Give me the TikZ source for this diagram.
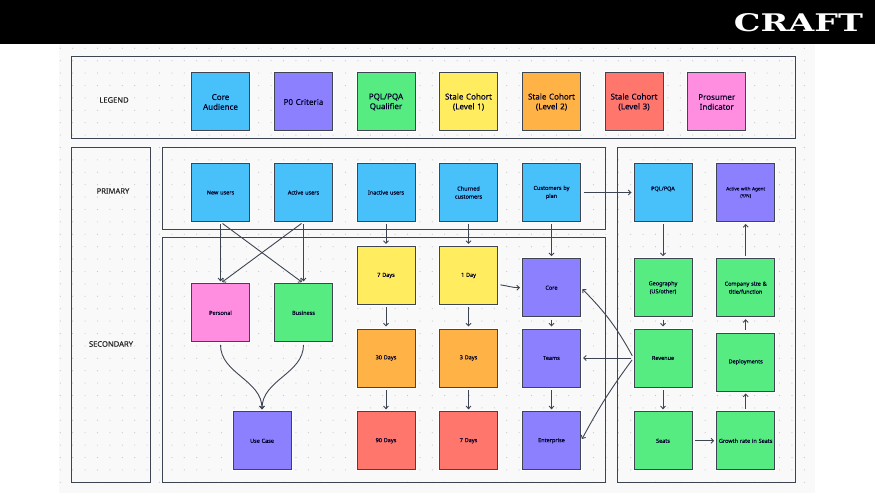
\documentclass[tikz,border=0pt]{standalone}
\usepackage{fontspec}
\setmainfont{Noto Sans}[FakeBold=0.1]
\newfontfamily\craftfont{DejaVu Serif}
\usetikzlibrary{arrows.meta}
\definecolor{linecol}{HTML}{3D4452}
\definecolor{paneCol}{HTML}{F9F9F9}
\definecolor{dotCol}{HTML}{C8C8CC}
\definecolor{blueCol}{HTML}{48C0F9}
\definecolor{purpleCol}{HTML}{8D80FF}
\definecolor{greenCol}{HTML}{56EC82}
\definecolor{yellowCol}{HTML}{FFED5F}
\definecolor{orangeCol}{HTML}{FFB347}
\definecolor{redCol}{HTML}{FF766C}
\definecolor{pinkCol}{HTML}{FF8DE0}
\tikzset{
	box/.style={draw=linecol,line width=1pt,minimum size=58pt,inner sep=0pt,align=center,text width=57pt,font=\fontsize{5.5}{8}\selectfont,text=black!85!blue,preaction={draw=white,line width=3pt}},
	legendbox/.style={box,font=\fontsize{8}{9.8}\selectfont},
	tinybox/.style={box,font=\fontsize{4.7}{7}\selectfont},
	frame/.style={draw=linecol,line width=1pt},
	rowlabel/.style={font=\fontsize{7.6}{9}\selectfont,text=black!85},
	conn/.style={draw=linecol,line width=0.9pt,->,>={Straight Barb[length=2.6pt,width=5pt]},shorten >=2pt,shorten <=2.5pt},
}
\begin{document}
\begin{tikzpicture}[x=1pt,y=1pt]
	\useasboundingbox (0,0) rectangle (875,493);
	\fill[white] (0,0) rectangle (875,493);
	\fill[paneCol] (59,0) rectangle (815,450);
	\foreach \i in {0,...,60}
		\foreach \j in {0,...,35}
			\fill[dotCol] (60.3+12.4*\i,444.7-12.4*\j) circle (0.6pt);
	\fill[black] (0,449.3) rectangle (875,493);
	\node (craft) at (798.5,470) [text=white,inner sep=0pt] {\resizebox{129pt}{18pt}{\craftfont\bfseries CRAFT}};

	\draw[frame] (71.5,354) rectangle (795.3,436.7);
	\draw[frame] (71.5,11) rectangle (150.5,345.5);
	\draw[frame] (162.5,263) rectangle (605.3,345.5);
	\draw[frame] (162.5,11) rectangle (605.3,255);
	\draw[frame] (617.3,11) rectangle (795.3,345.5);

	\node[rowlabel] (legendlabel) at (114,393) {LEGEND};
	\node[rowlabel] (primarylabel) at (113,302) {PRIMARY};
	\node[rowlabel] (secondarylabel) at (111,149) {SECONDARY};

	\foreach \nm/\cx/\col/\txt in {lcore/220.5/blueCol/{Core\\Audience},lpzero/303.5/purpleCol/{P0 Criteria},lpql/386/greenCol/{PQL/PQA\\Qualifier},lone/468.5/yellowCol/{Stale Cohort\\(Level 1)},ltwo/551.5/orangeCol/{Stale Cohort\\(Level 2)},lthree/634/redCol/{Stale Cohort\\(Level 3)},lpro/716.7/pinkCol/{Prosumer\\Indicator}}
		\node[legendbox,fill=\col] (\nm) at (\cx,391) {\txt};

	\foreach \nm/\cx/\txt in {newusers/220.5/{New users},activeusers/303.5/{Active users},inactive/386/{Inactive users},churned/468.5/{Churned\\customers},byplan/551.5/{Customers by\\plan}}
		\node[box,fill=blueCol] (\nm) at (\cx,300.5) {\txt};
	\node[box,fill=blueCol] (pql) at (663,300.5) {PQL/PQA\\~};
	\node[tinybox,fill=purpleCol] (agent) at (745.7,300.5) {Active with Agent\\(Y/N)};

	\node[box,fill=pinkCol] (personal) at (220.5,180.2) {Personal};
	\node[box,fill=greenCol] (business) at (303.5,180.2) {Business};
	\node[box,fill=purpleCol] (usecase) at (262,52.2) {Use Case};

	\node[box,fill=yellowCol] (sevena) at (386,217.5) {7 Days};
	\node[box,fill=orangeCol] (thirty) at (386,135) {30 Days};
	\node[box,fill=redCol] (ninety) at (386,52.2) {90 Days};
	\node[box,fill=yellowCol] (oneday) at (468.5,217.5) {1 Day};
	\node[box,fill=orangeCol] (three) at (468.5,135) {3 Days};
	\node[box,fill=redCol] (sevenb) at (468.5,52.2) {7 Days};
	\node[box,fill=purpleCol] (core) at (551.5,205.3) {Core};
	\node[box,fill=purpleCol] (teams) at (551.5,135) {Teams};
	\node[box,fill=purpleCol] (enterprise) at (551.5,52.2) {Enterprise};

	\node[box,fill=greenCol] (geo) at (663,205.3) {Geography\\(US/other)};
	\node[box,fill=greenCol] (revenue) at (663,135) {Revenue};
	\node[box,fill=greenCol] (seats) at (663,52.2) {Seats};
	\node[box,fill=greenCol] (company) at (745.7,205.3) {Company size \&\\title/function};
	\node[box,fill=greenCol] (deploy) at (745.7,131) {Deployments};
	\node[box,fill=greenCol] (growth) at (745.7,52.2) {Growth rate in Seats};

	\draw[conn] (newusers) -- (personal);
	\draw[conn] (activeusers) -- (business);
	\draw[conn] (newusers.south) -- (business.north);
	\draw[conn] (activeusers.south) -- (personal.north);
	\draw[conn] (personal.south) to[out=-90,in=90] (usecase.north);
	\draw[conn] (business.south) to[out=-90,in=90] (usecase.north);
	\draw[conn] (inactive) -- (sevena);
	\draw[conn] (sevena) -- (thirty);
	\draw[conn] (thirty) -- (ninety);
	\draw[conn] (churned) -- (oneday);
	\draw[conn] (oneday) -- (three);
	\draw[conn] (three) -- (sevenb);
	\draw[conn] (byplan) -- (core);
	\draw[conn] (core) -- (teams);
	\draw[conn] (teams) -- (enterprise);
	\draw[conn] (oneday.-17) to[out=-8,in=180] (core.west);
	\draw[conn] (byplan) -- (pql);
	\draw[conn] (pql) -- (geo);
	\draw[conn] (geo) -- (revenue);
	\draw[conn] (revenue) -- (seats);
	\draw[conn] (seats) -- (growth);
	\draw[conn] (growth) -- (deploy);
	\draw[conn] (deploy) -- (company);
	\draw[conn] (company) -- (agent);
	\draw[conn] (revenue.west) to[bend right=8] (core.east);
	\draw[conn] (revenue.west) -- (teams.east);
	\draw[conn] (revenue.west) to[bend right=4] (enterprise.east);
\end{tikzpicture}
\end{document}
